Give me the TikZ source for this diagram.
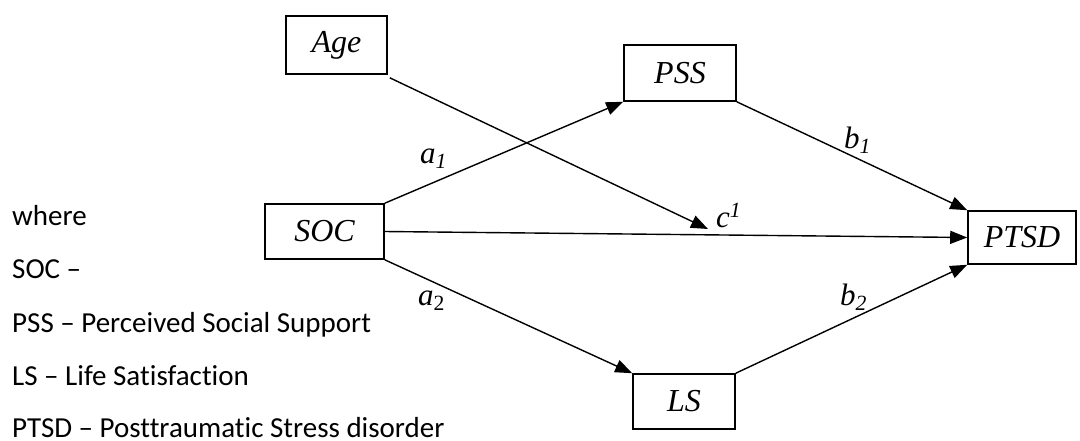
\documentclass[tikz,border=0pt]{standalone}
\usepackage{fontspec}
\setmainfont{Liberation Serif}
\newfontfamily\legendfont[Ligatures=CommonOff]{Carlito}
\usetikzlibrary{arrows.meta}
\begin{document}
\begin{tikzpicture}[x=1pt,y=-1pt,
  box/.style={draw,line width=1.6pt,inner sep=0pt,font=\fontsize{32}{36}\selectfont\itshape},
  conn/.style={line width=1.4pt,-{Triangle[length=17pt,width=13pt]}},
  lbl/.style={anchor=base west,inner sep=0pt,font=\fontsize{31}{34}\selectfont\itshape},
  leg/.style={anchor=base west,inner sep=0pt,font=\legendfont\fontsize{29}{32}\selectfont}]
\useasboundingbox (0,0) rectangle (1080,440);
\node[box,minimum width=101pt,minimum height=58pt] (age) at (336.5,45) {Age};
\node[box,minimum width=112pt,minimum height=56pt] (pss) at (680,73) {PSS};
\node[box,minimum width=119pt,minimum height=55pt] (soc) at (324.5,231.5) {SOC};
\node[box,minimum width=108pt,minimum height=53pt] (ptsd) at (1022,237.5) {PTSD};
\node[box,minimum width=102pt,minimum height=55pt] (ls) at (684,401.5) {LS};
\coordinate (cend) at (708,229);
\draw[conn] (age.south east) ++(2,3) -- (cend);
\draw[conn] (soc.north east) -- (pss.south west);
\draw[conn] (soc.east) -- (ptsd.west);
\draw[conn] (soc.south east) -- (ls.north west);
\draw[conn] (pss.south east) -- (ptsd.north west);
\draw[conn] (ls.north east) -- (ptsd.south west);
\node[lbl] (la1) at (420,163) {a\textsubscript{1}};
\node[lbl] (lb1) at (844,148) {b\textsubscript{1}};
\node[lbl] (lc1) at (716,227) {c\textsuperscript{1}};
\node[lbl] (la2) at (418,305) {a\textsubscript{\upshape 2}};
\node[lbl] (lb2) at (840,305) {b\textsubscript{2}};
\node[leg] (w) at (12,225) {where};
\node[leg] (l1) at (12,278) {SOC –};
\node[leg] (l2) at (12,332) {PSS – Perceived Social Support};
\node[leg] (l3) at (12,385) {LS – Life Satisfaction};
\node[leg] (l4) at (12,437) {PTSD – Posttraumatic Stress disorder};
\end{tikzpicture}
\end{document}
